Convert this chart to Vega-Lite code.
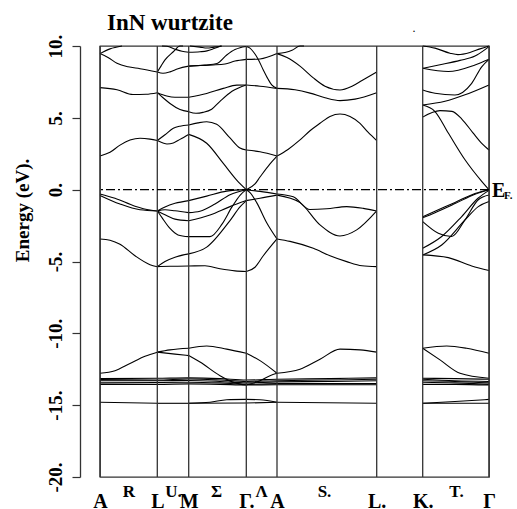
{
  "$schema": "https://vega.github.io/schema/vega-lite/v6.json",
  "autosize": {"type": "none"},
  "width": 389,
  "height": 431,
  "padding": {"left": 100, "top": 46, "right": 28, "bottom": 32},
  "background": "white",
  "config": {
    "view": {"stroke": "#333", "strokeWidth": 1.3},
    "font": "Liberation Serif",
    "axisY": {
      "offset": 20, "tickSize": 8, "tickColor": "#333", "domainColor": "#444", "tickWidth": 1.2, "domainWidth": 1.3,
      "labelAngle": -90, "labelAlign": "center", "labelBaseline": "bottom", "labelPadding": 7,
      "labelFont": "Liberation Serif", "labelFontWeight": "bold", "labelFontSize": 19, "labelColor": "#000",
      "labelFlush": false, "labelOverlap": false, "grid": false, "zindex": 2,
      "titleFont": "Liberation Serif", "titleFontWeight": "bold", "titleFontSize": 19, "titleColor": "#000",
      "titleAngle": -90, "titleAlign": "center", "titleBaseline": "alphabetic", "titleX": -52, "titleY": 164
    }
  },
  "title": {
    "text": "InN wurtzite",
    "font": "Liberation Serif",
    "fontWeight": "bold",
    "fontSize": 23,
    "color": "#000",
    "anchor": "start",
    "frame": "group",
    "dx": 7,
    "offset": -13
  },
  "datasets": {
    "bands": [
      {"b":"s1a","x":0,"e":9.47},{"b":"s1a","x":10,"e":9.8},{"b":"s1a","x":22,"e":10.15},
      {"b":"s1b","x":0,"e":9.47},{"b":"s1b","x":8,"e":9.2},{"b":"s1b","x":17,"e":8.8},{"b":"s1b","x":28,"e":8.55},{"b":"s1b","x":40,"e":8.42},{"b":"s1b","x":57.3,"e":8.19},
      {"b":"s1c","x":0,"e":7.1},{"b":"s1c","x":17,"e":6.95},{"b":"s1c","x":33,"e":6.62},{"b":"s1c","x":46,"e":6.64},{"b":"s1c","x":57.3,"e":6.75},
      {"b":"s1d","x":0,"e":2.34},{"b":"s1d","x":10,"e":2.6},{"b":"s1d","x":20,"e":3.1},{"b":"s1d","x":30,"e":3.45},{"b":"s1d","x":40,"e":3.58},{"b":"s1d","x":50,"e":3.52},{"b":"s1d","x":57.3,"e":3.42},
      {"b":"s1e","x":0,"e":-0.3},{"b":"s1e","x":15,"e":-0.6},{"b":"s1e","x":35,"e":-1.15},{"b":"s1e","x":50,"e":-1.42},{"b":"s1e","x":57.3,"e":-1.48},
      {"b":"s1f","x":0,"e":-0.4},{"b":"s1f","x":20,"e":-1.0},{"b":"s1f","x":40,"e":-1.4},{"b":"s1f","x":57.3,"e":-1.48},
      {"b":"s1g","x":0,"e":-3.43},{"b":"s1g","x":10,"e":-3.52},{"b":"s1g","x":20,"e":-3.8},{"b":"s1g","x":35,"e":-4.6},{"b":"s1g","x":50,"e":-5.22},{"b":"s1g","x":57.3,"e":-5.36},
      {"b":"s1h","x":0,"e":-12.78},{"b":"s1h","x":15,"e":-12.6},{"b":"s1h","x":30,"e":-12.1},{"b":"s1h","x":45,"e":-11.6},{"b":"s1h","x":57.3,"e":-11.31},
      {"b":"s1i","x":0,"e":-14.8},{"b":"s1i","x":57.3,"e":-14.87},

      {"b":"s2a","x":57.3,"e":8.19},{"b":"s2a","x":61,"e":8.6},{"b":"s2a","x":65,"e":9.03},{"b":"s2a","x":73.3,"e":9.6},{"b":"s2a","x":80,"e":10.07},{"b":"s2a","x":83,"e":10.3},
      {"b":"s2b","x":57.3,"e":8.19},{"b":"s2b","x":63,"e":8.1},{"b":"s2b","x":70,"e":8.2},{"b":"s2b","x":78,"e":8.42},{"b":"s2b","x":88.7,"e":8.6},
      {"b":"s2c","x":62,"e":10.15},{"b":"s2c","x":67,"e":9.98},{"b":"s2c","x":75,"e":9.78},{"b":"s2c","x":82,"e":9.63},{"b":"s2c","x":88.7,"e":9.56},
      {"b":"s2d","x":57.3,"e":6.75},{"b":"s2d","x":66.7,"e":6.52},{"b":"s2d","x":75,"e":6.43},{"b":"s2d","x":88.7,"e":6.43},
      {"b":"s2e","x":57.3,"e":6.75},{"b":"s2e","x":63,"e":6.4},{"b":"s2e","x":70,"e":6.0},{"b":"s2e","x":80,"e":5.58},{"b":"s2e","x":88.7,"e":5.43},
      {"b":"s2f","x":57.3,"e":3.42},{"b":"s2f","x":65,"e":3.82},{"b":"s2f","x":73.3,"e":4.27},{"b":"s2f","x":80,"e":4.42},{"b":"s2f","x":88.7,"e":4.5},
      {"b":"s2g","x":57.3,"e":3.42},{"b":"s2g","x":63,"e":3.25},{"b":"s2g","x":67,"e":3.18},{"b":"s2g","x":73.3,"e":3.25},{"b":"s2g","x":80,"e":3.5},{"b":"s2g","x":88.7,"e":3.85},
      {"b":"s2h","x":57.3,"e":-1.48},{"b":"s2h","x":65,"e":-1.2},{"b":"s2h","x":75,"e":-0.95},{"b":"s2h","x":88.7,"e":-0.76},
      {"b":"s2i","x":57.3,"e":-1.48},{"b":"s2i","x":65,"e":-1.4},{"b":"s2i","x":75,"e":-1.47},{"b":"s2i","x":88.7,"e":-1.6},
      {"b":"s2j","x":57.3,"e":-1.48},{"b":"s2j","x":65,"e":-1.75},{"b":"s2j","x":75,"e":-2.05},{"b":"s2j","x":88.7,"e":-2.16},
      {"b":"s2k","x":57.3,"e":-1.48},{"b":"s2k","x":62,"e":-1.95},{"b":"s2k","x":70,"e":-2.7},{"b":"s2k","x":78,"e":-3.15},{"b":"s2k","x":88.7,"e":-3.27},
      {"b":"s2l","x":57.3,"e":-5.36},{"b":"s2l","x":70,"e":-5.33},{"b":"s2l","x":88.7,"e":-5.31},
      {"b":"s2m","x":57.3,"e":-5.36},{"b":"s2m","x":65,"e":-5.0},{"b":"s2m","x":75,"e":-4.7},{"b":"s2m","x":88.7,"e":-4.47},
      {"b":"s2n","x":57.3,"e":-11.31},{"b":"s2n","x":70,"e":-11.15},{"b":"s2n","x":88.7,"e":-11.04},
      {"b":"s2o","x":57.3,"e":-11.31},{"b":"s2o","x":75,"e":-11.45},{"b":"s2o","x":88.7,"e":-11.55},
      {"b":"s2p","x":57.3,"e":-14.87},{"b":"s2p","x":88.7,"e":-14.87},

      {"b":"s3a","x":88.7,"e":9.56},{"b":"s3a","x":100,"e":9.6},{"b":"s3a","x":107,"e":9.66},{"b":"s3a","x":114,"e":9.82},{"b":"s3a","x":121,"e":10.1},
      {"b":"s3b","x":90,"e":10.2},{"b":"s3b","x":100,"e":9.92},{"b":"s3b","x":107,"e":9.86},{"b":"s3b","x":114,"e":9.92},{"b":"s3b","x":122,"e":10.2},
      {"b":"s3c","x":88.7,"e":8.6},{"b":"s3c","x":100,"e":8.64},{"b":"s3c","x":113,"e":8.68},{"b":"s3c","x":125,"e":8.75},{"b":"s3c","x":135,"e":8.95},{"b":"s3c","x":146.3,"e":9.07},
      {"b":"s3d","x":88.7,"e":8.6},{"b":"s3d","x":105,"e":8.68},{"b":"s3d","x":117,"e":8.78},{"b":"s3d","x":126.7,"e":9.37},{"b":"s3d","x":135,"e":9.75},{"b":"s3d","x":140,"e":9.88},{"b":"s3d","x":146.3,"e":9.96},
      {"b":"s3e","x":88.7,"e":6.43},{"b":"s3e","x":106.7,"e":6.7},{"b":"s3e","x":123.3,"e":7.05},{"b":"s3e","x":136.7,"e":7.28},{"b":"s3e","x":146.3,"e":7.29},
      {"b":"s3f","x":88.7,"e":5.43},{"b":"s3f","x":96,"e":5.32},{"b":"s3f","x":103,"e":5.38},{"b":"s3f","x":111.7,"e":5.6},{"b":"s3f","x":120,"e":6.15},{"b":"s3f","x":132,"e":6.85},{"b":"s3f","x":146.3,"e":7.29},
      {"b":"s3g","x":88.7,"e":4.5},{"b":"s3g","x":98,"e":4.65},{"b":"s3g","x":106.7,"e":4.73},{"b":"s3g","x":116.7,"e":4.55},{"b":"s3g","x":130,"e":3.6},{"b":"s3g","x":140,"e":2.9},{"b":"s3g","x":146.3,"e":2.76},
      {"b":"s3h","x":88.7,"e":3.85},{"b":"s3h","x":106.7,"e":3.23},{"b":"s3h","x":123.3,"e":1.83},{"b":"s3h","x":136.7,"e":0.67},{"b":"s3h","x":146.3,"e":0.0},
      {"b":"s3i","x":88.7,"e":-0.76},{"b":"s3i","x":106.7,"e":-0.45},{"b":"s3i","x":126.7,"e":-0.1},{"b":"s3i","x":146.3,"e":0.0},
      {"b":"s3j","x":88.7,"e":-1.6},{"b":"s3j","x":100,"e":-1.5},{"b":"s3j","x":115,"e":-1.0},{"b":"s3j","x":130,"e":-0.35},{"b":"s3j","x":146.3,"e":0.0},
      {"b":"s3k","x":88.7,"e":-2.16},{"b":"s3k","x":110,"e":-1.76},{"b":"s3k","x":130,"e":-1.18},{"b":"s3k","x":146.3,"e":-0.76},
      {"b":"s3l","x":88.7,"e":-3.27},{"b":"s3l","x":110,"e":-3.27},{"b":"s3l","x":122,"e":-2.4},{"b":"s3l","x":132,"e":-1.2},{"b":"s3l","x":140,"e":-0.39},{"b":"s3l","x":146.3,"e":0.0},
      {"b":"s3m","x":88.7,"e":-4.47},{"b":"s3m","x":106.7,"e":-4.0},{"b":"s3m","x":130,"e":-2.15},{"b":"s3m","x":140,"e":-1.2},{"b":"s3m","x":146.3,"e":-0.76},
      {"b":"s3n","x":88.7,"e":-5.31},{"b":"s3n","x":105,"e":-5.3},{"b":"s3n","x":120,"e":-5.5},{"b":"s3n","x":135,"e":-5.65},{"b":"s3n","x":146.3,"e":-5.7},
      {"b":"s3o","x":88.7,"e":-11.04},{"b":"s3o","x":106.7,"e":-10.88},{"b":"s3o","x":126.7,"e":-11.1},{"b":"s3o","x":146.3,"e":-11.39},
      {"b":"s3p","x":88.7,"e":-11.55},{"b":"s3p","x":100,"e":-12.0},{"b":"s3p","x":120,"e":-12.95},{"b":"s3p","x":135,"e":-13.45},{"b":"s3p","x":146.3,"e":-13.6},
      {"b":"s3q","x":88.7,"e":-14.87},{"b":"s3q","x":110,"e":-14.8},{"b":"s3q","x":126.7,"e":-14.62},{"b":"s3q","x":146.3,"e":-14.6},
      {"b":"s3r","x":88.7,"e":-14.87},{"b":"s3r","x":146.3,"e":-14.85},

      {"b":"s4a","x":146.3,"e":9.96},{"b":"s4a","x":150,"e":9.85},{"b":"s4a","x":153.3,"e":9.6},{"b":"s4a","x":158,"e":9.1},{"b":"s4a","x":163.3,"e":8.33},{"b":"s4a","x":168,"e":7.7},{"b":"s4a","x":171.7,"e":7.29},{"b":"s4a","x":177,"e":7.05},
      {"b":"s4b","x":146.3,"e":9.07},{"b":"s4b","x":160,"e":9.1},{"b":"s4b","x":177,"e":9.47},
      {"b":"s4c","x":146.3,"e":7.29},{"b":"s4c","x":160,"e":7.2},{"b":"s4c","x":177,"e":7.05},
      {"b":"s4d","x":146.3,"e":2.76},{"b":"s4d","x":160,"e":2.64},{"b":"s4d","x":177,"e":2.34},
      {"b":"s4e","x":146.3,"e":0.0},{"b":"s4e","x":155,"e":0.4},{"b":"s4e","x":160,"e":0.88},{"b":"s4e","x":170,"e":1.8},{"b":"s4e","x":177,"e":2.34},
      {"b":"s4f","x":146.3,"e":0.0},{"b":"s4f","x":160,"e":-0.12},{"b":"s4f","x":177,"e":-0.3},
      {"b":"s4g","x":146.3,"e":-0.76},{"b":"s4g","x":160,"e":-0.6},{"b":"s4g","x":177,"e":-0.38},
      {"b":"s4h","x":146.3,"e":0.0},{"b":"s4h","x":150,"e":-0.2},{"b":"s4h","x":156.7,"e":-0.9},{"b":"s4h","x":166.7,"e":-2.3},{"b":"s4h","x":177,"e":-3.43},
      {"b":"s4i","x":146.3,"e":-5.7},{"b":"s4i","x":155,"e":-5.4},{"b":"s4i","x":163.3,"e":-4.6},{"b":"s4i","x":177,"e":-3.43},
      {"b":"s4j","x":146.3,"e":-11.39},{"b":"s4j","x":160,"e":-11.9},{"b":"s4j","x":177,"e":-12.78},
      {"b":"s4k","x":146.3,"e":-13.6},{"b":"s4k","x":160,"e":-13.3},{"b":"s4k","x":170,"e":-12.95},{"b":"s4k","x":177,"e":-12.78},
      {"b":"s4l","x":146.3,"e":-14.6},{"b":"s4l","x":160,"e":-14.62},{"b":"s4l","x":177,"e":-14.8},
      {"b":"s4m","x":146.3,"e":-14.85},{"b":"s4m","x":177,"e":-14.8},

      {"b":"s5a","x":177,"e":9.47},{"b":"s5a","x":185,"e":9.55},{"b":"s5a","x":192,"e":9.7},{"b":"s5a","x":200,"e":10.05},{"b":"s5a","x":204,"e":10.3},
      {"b":"s5b","x":177,"e":9.47},{"b":"s5b","x":187,"e":9.2},{"b":"s5b","x":200,"e":8.6},{"b":"s5b","x":213,"e":7.8},{"b":"s5b","x":225,"e":7.2},{"b":"s5b","x":240,"e":6.94},{"b":"s5b","x":252,"e":7.2},{"b":"s5b","x":262,"e":7.6},{"b":"s5b","x":276.7,"e":8.19},
      {"b":"s5c","x":177,"e":7.05},{"b":"s5c","x":195,"e":6.95},{"b":"s5c","x":210,"e":6.72},{"b":"s5c","x":225,"e":6.4},{"b":"s5c","x":240,"e":6.2},{"b":"s5c","x":255,"e":6.3},{"b":"s5c","x":276.7,"e":6.75},
      {"b":"s5d","x":177,"e":2.34},{"b":"s5d","x":188,"e":2.8},{"b":"s5d","x":200,"e":3.46},{"b":"s5d","x":210,"e":4.1},{"b":"s5d","x":220,"e":4.62},{"b":"s5d","x":230,"e":5.1},{"b":"s5d","x":240,"e":5.27},{"b":"s5d","x":250,"e":5.1},{"b":"s5d","x":260,"e":4.62},{"b":"s5d","x":268,"e":4.0},{"b":"s5d","x":276.7,"e":3.42},
      {"b":"s5e","x":177,"e":-0.3},{"b":"s5e","x":193.3,"e":-0.5},{"b":"s5e","x":210,"e":-1.38},{"b":"s5e","x":226.7,"e":-1.33},{"b":"s5e","x":246.7,"e":-1.18},{"b":"s5e","x":263.3,"e":-1.3},{"b":"s5e","x":276.7,"e":-1.48},
      {"b":"s5f","x":177,"e":-0.38},{"b":"s5f","x":200,"e":-0.9},{"b":"s5f","x":220,"e":-2.45},{"b":"s5f","x":240,"e":-3.22},{"b":"s5f","x":256.7,"e":-2.8},{"b":"s5f","x":276.7,"e":-1.48},
      {"b":"s5g","x":177,"e":-3.43},{"b":"s5g","x":190,"e":-3.6},{"b":"s5g","x":213.3,"e":-4.08},{"b":"s5g","x":230,"e":-4.6},{"b":"s5g","x":246.7,"e":-5.01},{"b":"s5g","x":262,"e":-5.3},{"b":"s5g","x":276.7,"e":-5.36},
      {"b":"s5h","x":177,"e":-12.78},{"b":"s5h","x":200,"e":-12.5},{"b":"s5h","x":220,"e":-11.8},{"b":"s5h","x":240,"e":-11.1},{"b":"s5h","x":260,"e":-11.15},{"b":"s5h","x":276.7,"e":-11.31},
      {"b":"s5i","x":177,"e":-14.8},{"b":"s5i","x":276.7,"e":-14.87},

      {"b":"s7a","x":322.7,"e":10.05},{"b":"s7a","x":335,"e":9.85},{"b":"s7a","x":350,"e":9.5},{"b":"s7a","x":358,"e":9.4},{"b":"s7a","x":370,"e":9.55},{"b":"s7a","x":380,"e":9.8},{"b":"s7a","x":389,"e":10.0},
      {"b":"s7b","x":322.7,"e":8.45},{"b":"s7b","x":348.3,"e":8.22},{"b":"s7b","x":375,"e":8.68},{"b":"s7b","x":389,"e":9.07},
      {"b":"s7c","x":322.7,"e":8.45},{"b":"s7c","x":340,"e":8.7},{"b":"s7c","x":360,"e":9.0},{"b":"s7c","x":375,"e":9.3},{"b":"s7c","x":385,"e":9.75},{"b":"s7c","x":389,"e":9.96},
      {"b":"s7d","x":322.7,"e":6.94},{"b":"s7d","x":335,"e":6.71},{"b":"s7d","x":355,"e":6.59},{"b":"s7d","x":371.7,"e":7.4},{"b":"s7d","x":381.7,"e":8.55},{"b":"s7d","x":389,"e":9.07},
      {"b":"s7e","x":322.7,"e":5.89},{"b":"s7e","x":345,"e":6.15},{"b":"s7e","x":365,"e":6.6},{"b":"s7e","x":389,"e":7.29},
      {"b":"s7f","x":322.7,"e":5.89},{"b":"s7f","x":335,"e":5.44},{"b":"s7f","x":348.3,"e":3.94},{"b":"s7f","x":365,"e":2.08},{"b":"s7f","x":381.7,"e":0.58},{"b":"s7f","x":389,"e":0.0},
      {"b":"s7g","x":322.7,"e":5.05},{"b":"s7g","x":340,"e":5.5},{"b":"s7g","x":352,"e":5.45},{"b":"s7g","x":362,"e":4.9},{"b":"s7g","x":373,"e":3.95},{"b":"s7g","x":382,"e":3.2},{"b":"s7g","x":389,"e":2.76},
      {"b":"s7h","x":322.7,"e":-1.88},{"b":"s7h","x":335,"e":-1.5},{"b":"s7h","x":355,"e":-0.89},{"b":"s7h","x":375,"e":-0.26},{"b":"s7h","x":389,"e":0.0},
      {"b":"s7h2","x":322.7,"e":-1.96},{"b":"s7h2","x":335,"e":-1.6},{"b":"s7h2","x":355,"e":-0.97},{"b":"s7h2","x":375,"e":-0.32},{"b":"s7h2","x":389,"e":0.0},
      {"b":"s7i","x":322.7,"e":-2.22},{"b":"s7i","x":338.3,"e":-3.03},{"b":"s7i","x":351.7,"e":-3.26},{"b":"s7i","x":365,"e":-2.1},{"b":"s7i","x":378.3,"e":-0.7},{"b":"s7i","x":389,"e":-0.37},
      {"b":"s7j","x":322.7,"e":-4.08},{"b":"s7j","x":341.7,"e":-3.26},{"b":"s7j","x":361.7,"e":-1.87},{"b":"s7j","x":378,"e":-0.6},{"b":"s7j","x":389,"e":-0.05},
      {"b":"s7k","x":322.7,"e":-4.54},{"b":"s7k","x":341.7,"e":-3.85},{"b":"s7k","x":365,"e":-2.11},{"b":"s7k","x":378.3,"e":-1.18},{"b":"s7k","x":389,"e":-0.83},
      {"b":"s7l","x":322.7,"e":-4.54},{"b":"s7l","x":348.3,"e":-4.73},{"b":"s7l","x":371.7,"e":-5.31},{"b":"s7l","x":389,"e":-5.63},
      {"b":"s7m","x":322.7,"e":-11.04},{"b":"s7m","x":346.7,"e":-10.88},{"b":"s7m","x":366.7,"e":-11.04},{"b":"s7m","x":389,"e":-11.39},
      {"b":"s7n","x":322.7,"e":-11.04},{"b":"s7n","x":340,"e":-11.85},{"b":"s7n","x":360,"e":-12.78},{"b":"s7n","x":389,"e":-13.13},
      {"b":"s7o","x":322.7,"e":-14.87},{"b":"s7o","x":355,"e":-14.75},{"b":"s7o","x":389,"e":-14.6},
      {"b":"s7p","x":322.7,"e":-14.87},{"b":"s7p","x":389,"e":-14.87},

      {"b":"d1","x":0,"e":-13.15},{"b":"d1","x":57.3,"e":-13.13},{"b":"d1","x":88.7,"e":-13.1},{"b":"d1","x":120,"e":-13.15},{"b":"d1","x":146.3,"e":-13.25},{"b":"d1","x":177,"e":-13.2},{"b":"d1","x":230,"e":-13.15},{"b":"d1","x":276.7,"e":-13.1},
      {"b":"d2","x":0,"e":-13.22},{"b":"d2","x":57.3,"e":-13.25},{"b":"d2","x":88.7,"e":-13.18},{"b":"d2","x":120,"e":-13.25},{"b":"d2","x":146.3,"e":-13.35},{"b":"d2","x":177,"e":-13.3},{"b":"d2","x":230,"e":-13.25},{"b":"d2","x":276.7,"e":-13.2},
      {"b":"d3","x":0,"e":-13.3},{"b":"d3","x":57.3,"e":-13.3},{"b":"d3","x":88.7,"e":-13.28},{"b":"d3","x":120,"e":-13.35},{"b":"d3","x":146.3,"e":-13.45},{"b":"d3","x":177,"e":-13.38},{"b":"d3","x":230,"e":-13.35},{"b":"d3","x":276.7,"e":-13.3},
      {"b":"d4","x":0,"e":-13.45},{"b":"d4","x":57.3,"e":-13.42},{"b":"d4","x":88.7,"e":-13.4},{"b":"d4","x":120,"e":-13.45},{"b":"d4","x":146.3,"e":-13.55},{"b":"d4","x":177,"e":-13.5},{"b":"d4","x":230,"e":-13.5},{"b":"d4","x":276.7,"e":-13.5},
      {"b":"d5","x":0,"e":-13.55},{"b":"d5","x":57.3,"e":-13.55},{"b":"d5","x":88.7,"e":-13.52},{"b":"d5","x":120,"e":-13.55},{"b":"d5","x":146.3,"e":-13.6},{"b":"d5","x":177,"e":-13.58},{"b":"d5","x":230,"e":-13.58},{"b":"d5","x":276.7,"e":-13.58},
      {"b":"k1","x":322.7,"e":-13.13},{"b":"k1","x":355,"e":-13.15},{"b":"k1","x":389,"e":-13.2},
      {"b":"k2","x":322.7,"e":-13.2},{"b":"k2","x":355,"e":-13.3},{"b":"k2","x":389,"e":-13.35},
      {"b":"k3","x":322.7,"e":-13.3},{"b":"k3","x":355,"e":-13.35},{"b":"k3","x":389,"e":-13.45},
      {"b":"k4","x":322.7,"e":-13.4},{"b":"k4","x":355,"e":-13.45},{"b":"k4","x":389,"e":-13.55},
      {"b":"k5","x":322.7,"e":-13.55},{"b":"k5","x":355,"e":-13.55},{"b":"k5","x":389,"e":-13.6}
    ],
    "kpts": [{"x":0},{"x":57.3},{"x":88.7},{"x":146.3},{"x":177},{"x":276.7},{"x":322.7},{"x":389}],
    "fermi": [{"e":0}],
    "ef": [{"x":389,"e":0}],
    "speck": [{"x":314,"e":10}]
  },
  "resolve": {"axis": {"x": "independent"}},
  "layer": [
    {
      "data": {"name": "bands"},
      "mark": {"type": "line", "interpolate": "monotone", "color": "#000", "strokeWidth": 1.1},
      "encoding": {
        "x": {"field": "x", "type": "quantitative", "scale": {"domain": [0, 389], "nice": false, "zero": false},
          "axis": {"orient": "bottom", "values": [0,57.3,88.7,146.3,177,276.7,322.7,389],
            "labelExpr": "datum.value < 1 ? 'A' : datum.value < 60 ? 'L' : datum.value < 90 ? 'M' : datum.value < 150 ? 'Γ.' : datum.value < 180 ? 'A' : datum.value < 280 ? 'L.' : datum.value < 330 ? 'K.' : 'Γ'",
            "domain": false, "ticks": false, "tickSize": 0, "grid": false, "title": null,
            "labelPadding": 14, "labelFont": "Liberation Serif", "labelFontWeight": "bold", "labelFontSize": 20, "labelColor": "#000",
            "labelFlush": false, "labelOverlap": false, "labelBaseline": "top", "labelAlign": "center"}},
        "y": {"field": "e", "type": "quantitative", "scale": {"domain": [-20, 10], "nice": false, "zero": false, "clamp": true},
          "axis": {"values": [-20,-15,-10,-5,0,5,10], "domain": true, "ticks": true, "zindex": 2,
            "domainColor": "#333", "domainOpacity": 1, "domainWidth": 1.3, "tickColor": "#333", "tickOpacity": 1,
            "labelExpr": "(datum.value < 0 ? '-' + abs(datum.value) : '' + datum.value) + '.'",
            "title": "Energy (eV)."}},
        "detail": {"field": "b", "type": "nominal"}
      }
    },
    {
      "data": {"name": "kpts"},
      "mark": {"type": "rule", "color": "#333", "strokeWidth": 1.3},
      "encoding": {
        "x": {"field": "x", "type": "quantitative",
          "axis": {"orient": "bottom", "values": [28.3, 73, 116, 161, 224, 356],
            "labelExpr": "datum.value < 40 ? 'R' : datum.value < 100 ? 'U.' : datum.value < 140 ? 'Σ' : datum.value < 200 ? 'Λ' : datum.value < 300 ? 'S.' : 'T.'",
            "domain": false, "ticks": false, "tickSize": 0, "grid": false, "title": null,
            "labelPadding": 6, "labelFont": "Liberation Serif", "labelFontWeight": "bold", "labelFontSize": 17, "labelColor": "#000",
            "labelFlush": false, "labelOverlap": false, "labelBaseline": "top", "labelAlign": "center"}}
      }
    },
    {
      "data": {"name": "fermi"},
      "mark": {"type": "rule", "color": "#000", "strokeWidth": 1.2, "strokeDash": [9, 3, 2, 3]},
      "encoding": {"y": {"field": "e", "type": "quantitative"}}
    },
    {
      "data": {"name": "ef"},
      "mark": {"type": "text", "text": "E", "font": "Liberation Serif", "fontWeight": "bold", "fontSize": 20, "align": "left", "baseline": "alphabetic", "dx": 3, "dy": 7, "color": "#000"},
      "encoding": {"x": {"field": "x", "type": "quantitative", "axis": null}, "y": {"field": "e", "type": "quantitative"}}
    },
    {
      "data": {"name": "ef"},
      "mark": {"type": "text", "text": "F.", "font": "Liberation Serif", "fontWeight": "bold", "fontSize": 11, "align": "left", "baseline": "alphabetic", "dx": 15, "dy": 9, "color": "#000"},
      "encoding": {"x": {"field": "x", "type": "quantitative", "axis": null}, "y": {"field": "e", "type": "quantitative"}}
    },
    {
      "data": {"name": "speck"},
      "mark": {"type": "text", "text": ".", "font": "Liberation Serif", "fontSize": 12, "align": "center", "baseline": "alphabetic", "dy": -14, "color": "#000"},
      "encoding": {"x": {"field": "x", "type": "quantitative", "axis": null}, "y": {"field": "e", "type": "quantitative"}}
    }
  ]
}
